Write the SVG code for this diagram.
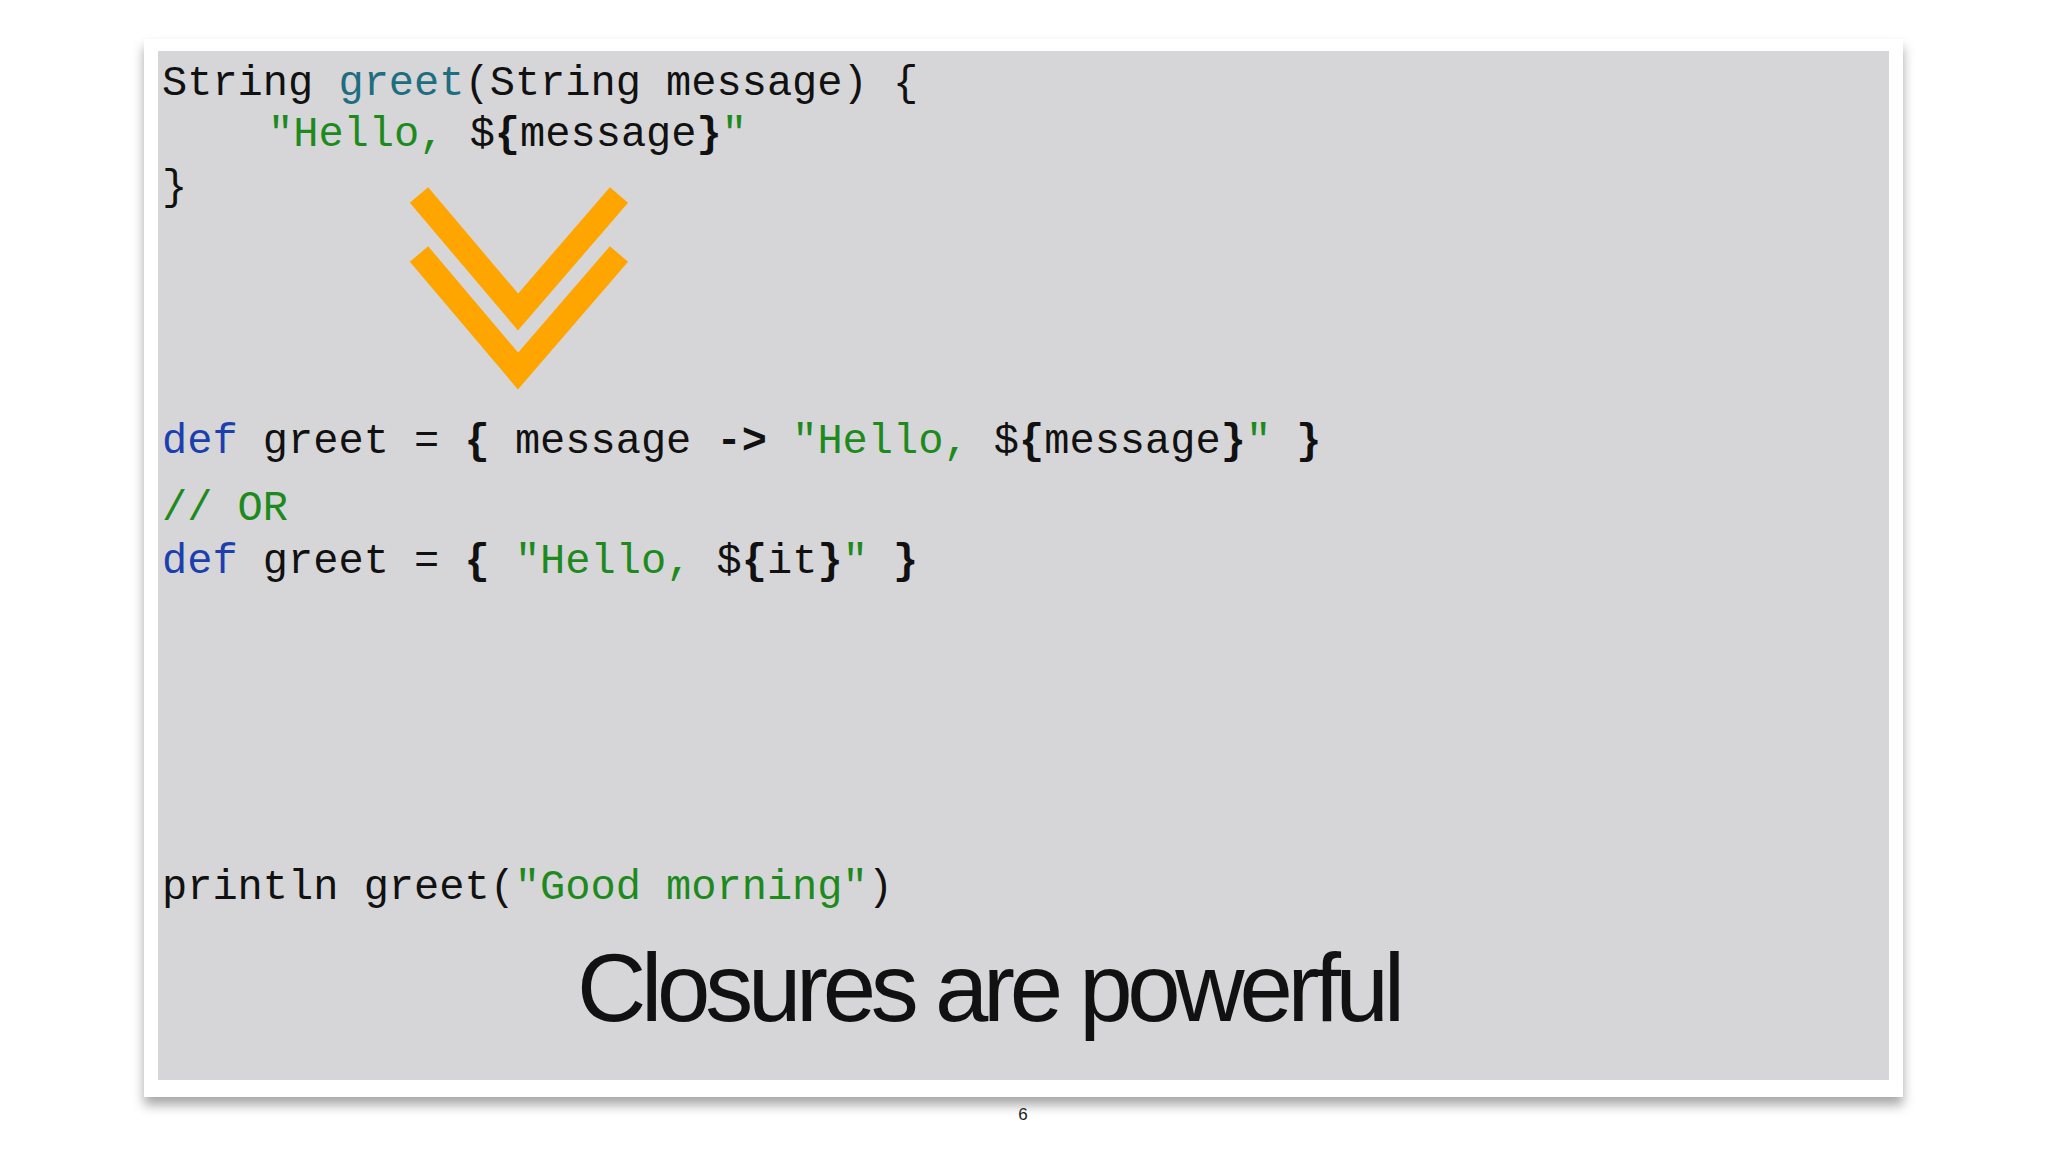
<svg xmlns="http://www.w3.org/2000/svg" width="2048" height="1152" viewBox="0 0 2048 1152">
<style>
.c{font-family:"Liberation Mono","DejaVu Sans Mono",monospace;font-size:42px;fill:#111;white-space:pre}
.k{fill:#1c3fae}.t{fill:#1d6e80}.s{fill:#1e8a1e}.b{font-weight:bold}
</style>
<defs><filter id="sh" x="-5%" y="-5%" width="110%" height="115%"><feDropShadow dx="0" dy="8" stdDeviation="6" flood-color="#000" flood-opacity="0.35"/></filter></defs>
<rect x="144" y="39" width="1759" height="1058" fill="#fff" filter="url(#sh)"/>
<rect x="158" y="51" width="1731" height="1029" fill="#d6d6d8"/>
<g id="code1">
<text class="c" x="162" y="95" xml:space="preserve">String <tspan class="t">greet</tspan>(String message) {</text>
<text class="c" x="268" y="146" xml:space="preserve"><tspan class="s">"Hello, </tspan>$<tspan class="b">{</tspan>message<tspan class="b">}</tspan><tspan class="s">"</tspan></text>
<text class="c" x="162" y="199">}</text>
</g>
<g id="arrow" fill="none" stroke="#ffa500" stroke-width="24">
<polyline points="419,195 518,312 619,195"/>
<polyline points="419,254 518,371 619,254"/>
</g>
<g id="code2">
<text class="c" x="162" y="453" xml:space="preserve"><tspan class="k">def</tspan> greet = <tspan class="b">{</tspan> message <tspan class="b">-&gt;</tspan> <tspan class="s">"Hello, </tspan>$<tspan class="b">{</tspan>message<tspan class="b">}</tspan><tspan class="s">"</tspan> <tspan class="b">}</tspan></text>
<text class="c s" x="162" y="520">// OR</text>
<text class="c" x="162" y="573" xml:space="preserve"><tspan class="k">def</tspan> greet = <tspan class="b">{</tspan> <tspan class="s">"Hello, </tspan>$<tspan class="b">{</tspan>it<tspan class="b">}</tspan><tspan class="s">"</tspan> <tspan class="b">}</tspan></text>
<text class="c" x="162" y="899" xml:space="preserve">println greet(<tspan class="s">"Good morning"</tspan>)</text>
</g>
<text x="577" y="1021" font-family="Liberation Sans,Arial,sans-serif" font-size="96" fill="#111" textLength="828">Closures are powerful</text>
<text x="1023" y="1120" font-family="Liberation Sans,Arial,sans-serif" font-size="17" fill="#222" text-anchor="middle">6</text>
</svg>
